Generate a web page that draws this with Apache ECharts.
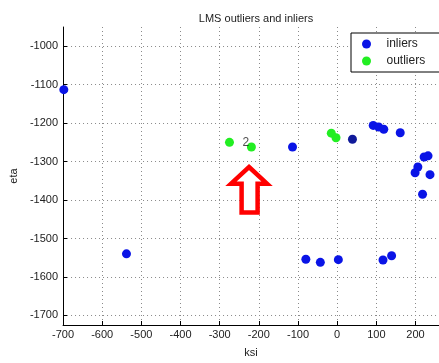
<!DOCTYPE html>
<html>
<head>
<meta charset="utf-8">
<script src="https://cdn.jsdelivr.net/npm/echarts@6/dist/echarts.min.js"></script>
<style>
	html, body { margin: 0; padding: 0; background: #fff; }
	#chart { width: 439px; height: 363px; }
</style>
</head>
<body>
<div id="chart"></div>
<script>
// points: [ksi, eta]
const inliers = [
	[ -698, -1113 ],
	[ -538, -1540 ],
	[ -114, -1262 ],
	[ -80, -1554 ],
	[ -43, -1562 ],
	[ 3, -1555 ],
	[ 92, -1206 ],
	[ 106, -1210 ],
	[ 119, -1216 ],
	[ 117, -1556 ],
	[ 139, -1545 ],
	[ 161, -1225 ],
	[ 199, -1329 ],
	[ 206, -1314 ],
	[ 218, -1385 ],
	[ 222, -1288 ],
	[ 232, -1285 ],
	[ 237, -1334 ]
];
const darkInliers = [ [ 39, -1242 ] ];
const outliers = [
	[ -275, -1250 ],
	[ -219, -1262 ],
	[ -15, -1226 ],
	[ -3, -1238 ]
];
const pointLabels = [ [ -233, -1251, '2' ] ];

const xTicks = [ -700, -600, -500, -400, -300, -200, -100, 0, 100, 200 ];
const yTicks = [ -1700, -1600, -1500, -1400, -1300, -1200, -1100, -1000 ];

const font = '"Liberation Sans", Arial, sans-serif';
const gridLine = { show: true, lineStyle: { color: '#8a8a8a', type: [ 1, 3 ], width: 1 } };
const plain = ( v ) => String( v );

const chart = echarts.init( document.getElementById( 'chart' ), null, { renderer: 'canvas' } );

chart.setOption( {
	animation: false,
	backgroundColor: '#fff',
	title: {
		text: 'LMS outliers and inliers',
		left: 251,
		top: 8,
		textAlign: 'center',
		textStyle: { fontFamily: font, fontSize: 11, fontWeight: 'normal', color: '#222' }
	},
	legend: {
		data: [ 'inliers', 'outliers' ],
		orient: 'vertical',
		left: 351,
		top: 33,
		padding: [ 4, 16, 4, 11 ],
		itemWidth: 30,
		itemHeight: 9,
		itemGap: 3,
		borderColor: '#000',
		borderWidth: 1,
		backgroundColor: '#fff',
		textStyle: { fontFamily: font, fontSize: 12, color: '#222', lineHeight: 14 }
	},
	grid: { left: 60, right: -3, top: 27, bottom: 29 },
	xAxis: {
		type: 'value',
		min: -700,
		max: 260,
		interval: 100,
		name: 'ksi',
		nameLocation: 'middle',
		nameGap: 22,
		nameTextStyle: { fontFamily: font, fontSize: 11, color: '#222' },
		axisLine: { onZero: false, lineStyle: { color: '#000', width: 1 } },
		axisTick: { inside: true, length: 4, lineStyle: { color: '#000' }, customValues: xTicks },
		axisLabel: { fontFamily: font, fontSize: 11, color: '#222', margin: 4, customValues: xTicks, formatter: plain },
		splitLine: gridLine
	},
	yAxis: {
		type: 'value',
		min: -1725,
		max: -950,
		name: 'eta',
		nameLocation: 'middle',
		nameGap: 38,
		nameTextStyle: { fontFamily: font, fontSize: 11, color: '#222' },
		axisLine: { show: true, onZero: false, lineStyle: { color: '#000', width: 1 } },
		axisTick: { show: true, inside: true, length: 4, lineStyle: { color: '#000' }, customValues: yTicks },
		axisLabel: { fontFamily: font, fontSize: 11, color: '#222', margin: 5, customValues: yTicks, formatter: plain },
		splitLine: gridLine
	},
	series: [
		{
			name: 'inliers',
			type: 'scatter',
			data: inliers,
			symbol: 'circle',
			symbolSize: 9,
			itemStyle: { color: '#0a14e6', opacity: 1 },
			z: 3
		},
		{
			name: 'inliers',
			type: 'scatter',
			data: darkInliers,
			symbol: 'circle',
			symbolSize: 9,
			itemStyle: { color: '#101a9a', opacity: 1 },
			z: 3
		},
		{
			name: 'outliers',
			type: 'scatter',
			data: outliers,
			symbol: 'circle',
			symbolSize: 9,
			itemStyle: { color: '#22ee22', opacity: 1 },
			z: 3
		},
		{
			name: 'labels',
			type: 'scatter',
			data: pointLabels,
			symbolSize: 0,
			silent: true,
			label: {
				show: true,
				position: 'inside',
				formatter: ( p ) => p.value[ 2 ],
				fontFamily: font,
				fontSize: 12,
				color: '#222'
			},
			z: 4
		}
	],
	graphic: [
		{
			type: 'polygon',
			shape: {
				points: [
					[ 249, 167 ], [ 267, 183.7 ], [ 257.6, 183.7 ], [ 257.6, 212.5 ],
					[ 241.6, 212.5 ], [ 241.6, 183.7 ], [ 231, 183.7 ]
				]
			},
			style: { fill: '#fff', stroke: '#ff0000', lineWidth: 4.5, lineJoin: 'miter' },
			z: 100
		}
	]
} );
</script>
</body>
</html>
